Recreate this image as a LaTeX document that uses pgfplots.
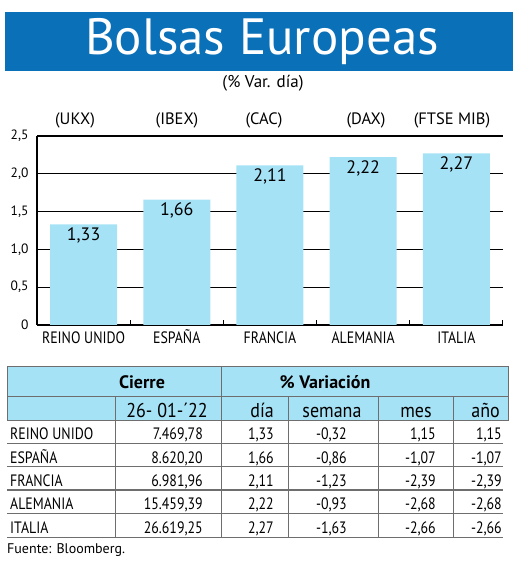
\documentclass[border=0pt]{standalone}
\usepackage{pgfplots}
\pgfplotsset{compat=1.18}
\usepackage{fontspec}
\setmainfont{PT Sans}
\newfontfamily\cond{PT Sans}[FakeStretch=0.84]
\newfontfamily\semicond{PT Sans}[FakeStretch=0.9]
\definecolor{banner}{RGB}{10,112,184}
\definecolor{barblue}{RGB}{166,226,246}
\definecolor{tline}{RGB}{110,110,110}
\newcommand\trow[7]{%
  \node[anchor=base west] at (10,#1) {#2};
  \node[anchor=base east] at (203,#1) {#3};
  \node[anchor=base east] at (274,#1) {#4};
  \node[anchor=base east] at (347,#1) {#5};
  \node[anchor=base east] at (436,#1) {#6};
  \node[anchor=base east] at (502,#1) {#7};
}
\begin{document}
\begin{tikzpicture}[x=1pt,y=1pt]
\path[use as bounding box] (0,0) rectangle (520,563);
% banner
\fill[banner] (5,492) rectangle (513,551);
\node[white,font=\fontsize{51}{53}\selectfont] at (262,521.5) {Bolsas Europeas};
\node[font=\fontsize{17}{19}\selectfont] at (263,480) {(\% Var. día)};
% codes
\begin{scope}[every node/.style={font=\fontsize{16.5}{18}\selectfont}]
\node at (75,443) {(UKX)};
\node at (177,443) {(IBEX)};
\node at (264,443) {(CAC)};
\node at (366,443) {(DAX)};
\node at (452,443) {(FTSE MIB)};
\end{scope}
\begin{axis}[
  at={(37pt,238pt)}, anchor=south west,
  scale only axis, width=466pt, height=189pt,
  xmin=-0.5, xmax=4.5, ymin=0, ymax=2.5,
  axis x line*=bottom, axis y line*=left,
  axis line style={black, line width=1.3pt, -},
  xtick={0,1,2,3,4},
  xticklabels={REINO UNIDO,ESPAÑA,FRANCIA,ALEMANIA,ITALIA},
  minor xtick={0.5,1.5,2.5,3.5,4.5},
  major tick length=0pt, minor tick length=5pt,
  tick align=inside,
  minor tick style={black, line width=1pt},
  ytick={0,0.5,1,1.5,2,2.5},
  yticklabels={0,{0,5},{1,0},{1,5},{2,0},{2,5}},
  ymajorgrids, grid style={black, line width=1.3pt},
  xticklabel style={font=\cond\fontsize{16.5}{18}\selectfont, text height=12pt, text depth=0pt, yshift=-3pt},
  yticklabel style={font=\fontsize{13.5}{15}\selectfont, xshift=-5pt},
  /pgf/number format/assume math mode=true,
  clip=false,
]
\addplot[ybar, bar width=67pt, fill=barblue, draw=none,
  nodes near coords={\pgfmathprintnumber[fixed,fixed zerofill,precision=2,use comma]{\pgfplotspointmeta}},
  nodes near coords style={anchor=north, font=\fontsize{18}{20}\selectfont, inner sep=2pt, yshift=-1pt},
] coordinates {(0,1.33) (1,1.66) (2,2.11) (3,2.22) (4,2.27)};
\end{axis}
% table
\fill[barblue] (7,142) rectangle (508,196);
\draw[tline, line width=1pt] (7,142) rectangle (508,196);
\draw[tline, line width=1pt] (7,166) -- (508,166);
\draw[tline, line width=1pt] (221,196) -- (221,25.5);
\foreach \x in {115,288,378,453} \draw[tline, line width=1pt] (\x,166) -- (\x,25.5);
\foreach \y in {119.7,96.4,73,49.7,25.5} \draw[tline, line width=1.5pt] (7,\y) -- (503,\y);
\node[font=\bfseries\fontsize{18}{20}\selectfont] at (142,181) {Cierre};
\node[font=\bfseries\fontsize{18}{20}\selectfont] at (325,181) {\% Variación};
\begin{scope}[every node/.style={font=\semicond\fontsize{20}{22}\selectfont, inner sep=0pt}]
\node[anchor=base east] at (208,145) {26- 01-´22};
\node[anchor=base east] at (274,145) {día};
\node[anchor=base] at (332,145) {semana};
\node[anchor=base] at (416,145) {mes};
\node[anchor=base east] at (500,145) {año};
\end{scope}
\begin{scope}[every node/.style={font=\cond\fontsize{16.5}{18}\selectfont, inner sep=0pt}]
\trow{123}{REINO UNIDO}{7.469,78}{1,33}{-0,32}{1,15}{1,15}
\trow{99}{ESPAÑA}{8.620,20}{1,66}{-0,86}{-1,07}{-1,07}
\trow{76}{FRANCIA}{6.981,96}{2,11}{-1,23}{-2,39}{-2,39}
\trow{53}{ALEMANIA}{15.459,39}{2,22}{-0,93}{-2,68}{-2,68}
\trow{29}{ITALIA}{26.619,25}{2,27}{-1,63}{-2,66}{-2,66}
\end{scope}
\node[anchor=west, font=\fontsize{14}{16}\selectfont, inner sep=0pt] at (7,13) {Fuente: Bloomberg.};
\end{tikzpicture}
\end{document}
